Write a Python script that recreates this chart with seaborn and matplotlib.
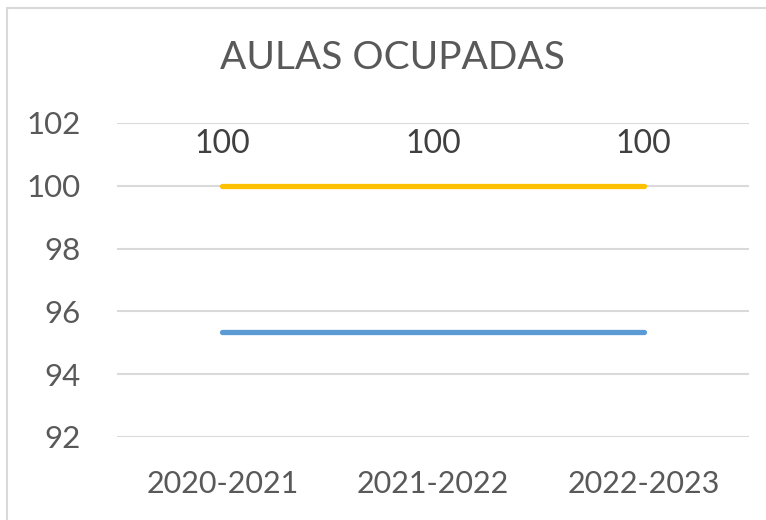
import matplotlib
matplotlib.use("Agg")
import matplotlib.pyplot as plt
import seaborn as sns
import pandas as pd
from matplotlib.lines import Line2D

categories = ["2020-2021", "2021-2022", "2022-2023"]
series_a = [100, 100, 100]          # orange, labelled
series_b = [95.35, 95.35, 95.35]    # blue
yticks = [92, 94, 96, 98, 100, 102]

df = pd.DataFrame({
    "x": list(range(len(categories))) * 2,
    "y": series_a + series_b,
    "serie": ["A"] * 3 + ["B"] * 3,
})

sns.set_theme(style="white")
plt.rcParams['font.family'] = ['Lato', 'DejaVu Sans']

fig = plt.figure(figsize=(7.66, 5.2), dpi=100)
ax = fig.add_axes([117/766, 1 - 437/520, (749-117)/766, (437-123)/520])

sns.lineplot(data=df, x="x", y="y", hue="serie",
             palette={"A": "#FFC000", "B": "#5B9BD5"},
             linewidth=3.8, legend=False, ax=ax,
             solid_capstyle="round")

ax.set_xlim(-0.5, len(categories) - 0.5)
ax.set_ylim(92, 102)
ax.set_yticks(yticks)
ax.set_yticklabels([str(t) for t in yticks], fontsize=22.5, color="#595959")
ax.set_xticks(range(len(categories)))
ax.set_xticklabels(categories, fontsize=22, color="#595959")
ax.tick_params(axis="both", length=0)
ax.tick_params(axis="y", pad=26)
ax.tick_params(axis="x", pad=24)
ax.set_xlabel("")
ax.set_ylabel("")
ax.yaxis.grid(True, color="#D9D9D9", linewidth=1.5)
ax.set_axisbelow(True)
for s in ax.spines.values():
    s.set_visible(False)

for i, v in enumerate(series_a):
    ax.annotate(f"{v:g}", (i, v), xytext=(0, 19), textcoords="offset points",
                ha="center", va="bottom", fontsize=23, color="#404040")

fig.text(392/766, 1 - 58/520, "AULAS OCUPADAS", ha="center", va="center",
         fontsize=28, color="#595959")

# chart area border (top and left visible)
fig.add_artist(Line2D([7/766, 7/766], [0, 1 - 8/520], transform=fig.transFigure,
                      color="#D9D9D9", linewidth=1.5))
fig.add_artist(Line2D([7/766, 1], [1 - 8/520, 1 - 8/520], transform=fig.transFigure,
                      color="#D9D9D9", linewidth=1.5))

fig.savefig("out.png", dpi=100)
